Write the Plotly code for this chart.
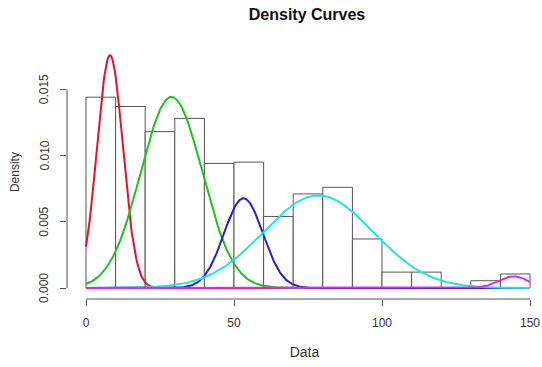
import numpy as np
import plotly.graph_objects as go

# Histogram (density scale), bins of width 10 from 0 to 150
bin_edges = [0, 10, 20, 30, 40, 50, 60, 70, 80, 90, 100, 110, 120, 130, 140, 150]
bin_density = [0.0144, 0.0137, 0.0118, 0.0128, 0.0094, 0.0095, 0.0054,
               0.0071, 0.0076, 0.0037, 0.0012, 0.0012, 0.0, 0.00055, 0.00106]

# Mixture components: weight, mean, sd, colour
comp_weight = [0.192, 0.376, 0.112, 0.324, 0.011]
comp_mean = [8.1, 28.9, 53.2, 78.5, 144.4]
comp_sd = [4.36, 10.4, 6.6, 18.5, 5.0]
comp_color = ["#e8102a", "#1cc41c", "#2222cc", "#22e2e2", "#e822e8"]

x_ticks = [0, 50, 100, 150]
y_ticks = [0.000, 0.005, 0.010, 0.015]
y_tick_text = ["0.000", "0.005", "0.010", "0.015"]

fig = go.Figure()

# histogram bars: white fill, dark outline
for lo, hi, d in zip(bin_edges[:-1], bin_edges[1:], bin_density):
    fig.add_trace(go.Scatter(
        x=[lo, lo, hi, hi, lo], y=[0, d, d, 0, 0],
        mode="lines", fill="toself", fillcolor="white",
        line=dict(color="#555555", width=1),
        hoverinfo="skip", showlegend=False))

# weighted normal density curves over the full range
xs = np.linspace(bin_edges[0], bin_edges[-1], 601)
for w, m, s, c in zip(comp_weight, comp_mean, comp_sd, comp_color):
    ys = w * np.exp(-0.5 * ((xs - m) / s) ** 2) / (s * np.sqrt(2 * np.pi))
    fig.add_trace(go.Scatter(x=xs, y=ys, mode="lines",
                             line=dict(color=c, width=2),
                             hoverinfo="skip", showlegend=False))

axis_col = "#555555"
text_col = "#333333"
font = dict(family="Liberation Sans, Arial, sans-serif", size=12, color=text_col)

# base-graphics style axis lines spanning only the tick range
fig.add_shape(type="line", xref="x", yref="paper",
              x0=x_ticks[0], x1=x_ticks[-1], y0=0, y1=0,
              line=dict(color=axis_col, width=1))
fig.add_shape(type="line", xref="paper", yref="y",
              x0=0, x1=0, y0=y_ticks[0], y1=y_ticks[-1],
              line=dict(color=axis_col, width=1))

# vertical y tick labels, set away from the axis
for v, t in zip(y_ticks, y_tick_text):
    fig.add_annotation(x=0, xref="paper", y=v, yref="y", text=t,
                       textangle=-90, showarrow=False, xanchor="center",
                       yanchor="middle", xshift=-23, font=font)

# y axis title
fig.add_annotation(x=0, xref="paper", y=0.49, yref="paper", text="Density",
                   textangle=-90, showarrow=False, xanchor="center",
                   yanchor="middle", xshift=-52, font=font)

fig.update_layout(
    width=542, height=367,
    margin=dict(l=67, r=0, t=40, b=68),
    paper_bgcolor="white", plot_bgcolor="white",
    font=font,
    title=dict(text="<b>Density Curves</b>", x=307 / 542, xanchor="center",
               y=1 - 14 / 367, yanchor="middle", yref="container",
               font=dict(size=16, color="#111111")),
    xaxis=dict(range=[-6.42, 154.05], tickvals=x_ticks, ticks="outside",
               ticklen=6, tickcolor=axis_col, showgrid=False, zeroline=False,
               showline=False, ticklabelstandoff=7,
               title=dict(text="Data", standoff=17)),
    yaxis=dict(range=[-0.000829, 0.018716], tickvals=y_ticks,
               showticklabels=False, ticks="outside",
               ticklen=6, tickcolor=axis_col, showgrid=False, zeroline=False,
               showline=False),
)

fig.write_html("out.html")
